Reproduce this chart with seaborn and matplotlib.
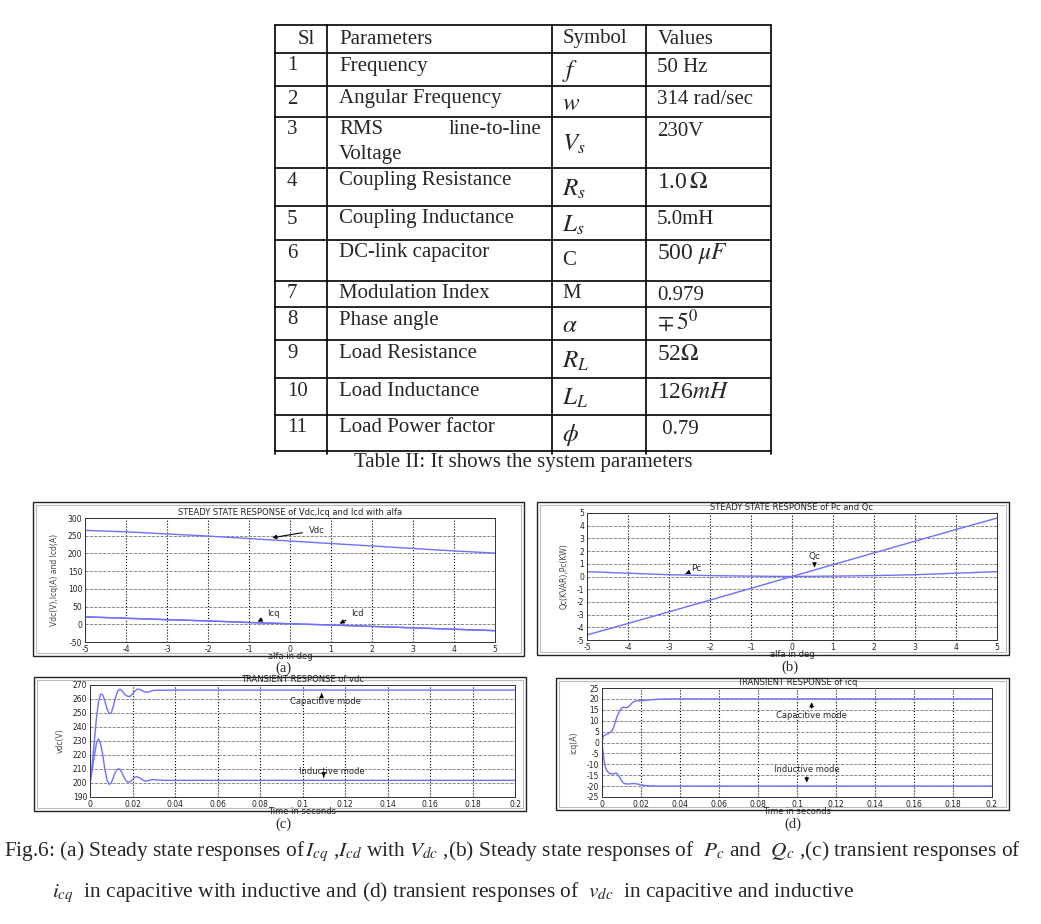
import matplotlib
matplotlib.use("Agg")
import numpy as np
import pandas as pd
import matplotlib.pyplot as plt
from matplotlib.patches import Rectangle
import seaborn as sns

sns.set_style("white")
plt.rcParams["font.family"] = ["DejaVu Sans"]
plt.rcParams["mathtext.fontset"] = "stix"

# --------------------------------------------------------------
# Table II data
# --------------------------------------------------------------
tab_sl = ["1", "2", "3", "4", "5", "6", "7", "8", "9", "10", "11"]
tab_param = ["Frequency", "Angular Frequency", "RMS line-to-line Voltage",
             "Coupling Resistance", "Coupling Inductance", "DC-link capacitor",
             "Modulation Index", "Phase angle", "Load Resistance",
             "Load Inductance", "Load Power factor"]
tab_symbol = [r"$f$", r"$w$", r"$V_s$", r"$R_s$", r"$L_s$", "C", "M",
              r"$\alpha$", r"$R_L$", r"$L_L$", r"$\phi$"]
tab_value = ["50 Hz", "314 rad/sec", "230V", r"1.0$\,\Omega$", "5.0mH",
             r"500 $\mu F$", "0.979", r"$\mp\, 5^0$", r"52$\Omega$",
             r"126$mH$", " 0.79"]

# --------------------------------------------------------------
# (a) steady state Vdc, Icq, Icd vs alfa
# --------------------------------------------------------------
alfa = [-5, -4, -3, -2, -1, 0, 1, 2, 3, 4, 5]
vdc_ss = [265, 261, 255, 249, 242, 235, 228, 221, 214, 207, 201]
icq_ss = [21, 17, 13, 9.5, 5, 1.5, -2, -6, -10, -14, -18]
icd_ss = [21, 17, 13, 9.5, 5, 1.5, -2, -6, -10, -14, -18]

# (b) steady state Pc, Qc vs alfa
pc_ss = [0.38, 0.26, 0.14, 0.07, 0.03, 0.0, 0.03, 0.07, 0.14, 0.26, 0.38]
qc_ss = [-4.6, -3.7, -2.78, -1.86, -0.93, 0.0, 0.93, 1.86, 2.78, 3.7, 4.6]

# (c) transient vdc
t_vdc = [0, 0.001, 0.002, 0.003, 0.004, 0.005, 0.006, 0.007, 0.008, 0.009,
         0.010, 0.011, 0.012, 0.013, 0.014, 0.015, 0.016, 0.017, 0.018, 0.019,
         0.020, 0.021, 0.022, 0.023, 0.024, 0.025, 0.026, 0.027, 0.028, 0.029,
         0.030, 0.032, 0.035, 0.040, 0.2]
vdc_cap = [200, 213, 229, 246, 258, 263.5, 263, 258.5, 253, 249.5,
           250, 255, 261, 265.5, 267, 266, 264, 262.5, 261.8, 262,
           263.5, 265.5, 266.8, 267, 266.5, 265.6, 265, 264.8, 265.2, 265.8,
           266.2, 266.3, 266.2, 266.4, 266.4]
vdc_ind = [200, 209, 219, 228, 231.5, 228, 220, 210, 202, 199,
           200, 204, 208, 210, 210, 207.5, 204, 201.5, 200.5, 201,
           202.5, 204, 204.5, 204, 203, 202, 201.4, 201.5, 202, 202.3,
           202.4, 202.1, 201.9, 201.9, 201.9]

# (d) transient icq
t_icq = [0, 0.0005, 0.001, 0.0015, 0.002, 0.003, 0.004, 0.005, 0.006, 0.007,
         0.008, 0.009, 0.010, 0.011, 0.012, 0.013, 0.014, 0.015, 0.016, 0.017,
         0.018, 0.020, 0.022, 0.025, 0.030, 0.035, 0.2]
icq_cap = [0, 2.5, 3.2, 3.4, 3.6, 4.0, 4.5, 5.3, 7.0, 10.0,
           12.5, 14.5, 15.8, 16.2, 16.0, 16.1, 16.8, 17.8, 18.6, 19.0,
           19.1, 19.2, 19.3, 19.6, 19.9, 20.0, 20.0]
icq_ind = [0, -4, -8, -10.5, -12, -13.5, -14.2, -14.5, -14.4, -14.0,
           -14.5, -16.0, -17.5, -18.5, -19.0, -19.0, -19.0, -18.9, -18.8, -18.9,
           -19.0, -19.5, -19.7, -19.9, -20.0, -20.0, -20.0]

W, H = 1041, 924
LINE = "#6f6fff"
fig = plt.figure(figsize=(W / 100, H / 100), dpi=100)
fig.patch.set_facecolor("white")

# pixel-coordinate overlay for table, frames and captions
ax0 = fig.add_axes([0, 0, 1, 1])
ax0.set_xlim(0, W)
ax0.set_ylim(H, 0)
ax0.axis("off")

serif = "Liberation Serif"

# ---- table ----
col_x = [275, 327, 552, 646, 771]
row_y = [25, 53, 86, 117, 168, 206, 240, 281, 307, 340, 378, 415, 451]
for x in col_x:
    ax0.plot([x, x], [row_y[0], row_y[-1] + 3], color="k", lw=1.2)
for y in row_y:
    ax0.plot([col_x[0], col_x[-1]], [y, y], color="k", lw=1.2)

hdr_y = 39
ax0.text(298, hdr_y, "Sl", family=serif, fontsize=15, va="center")
ax0.text(339, hdr_y, "Parameters", family=serif, fontsize=15, va="center")
ax0.text(563, hdr_y, "Symbol", family=serif, fontsize=15, va="center")
ax0.text(658, hdr_y, "Values", family=serif, fontsize=15, va="center")

for i in range(len(tab_sl)):
    top = row_y[i + 1]
    bot = row_y[i + 2]
    ty = top + 13
    ax0.text(287, ty, tab_sl[i], family=serif, fontsize=15, va="center")
    if i == 2:
        ax0.text(339, ty, "RMS", family=serif, fontsize=15, va="center")
        ax0.text(541, ty, "line-to-line", family=serif, fontsize=15,
                 va="center", ha="right")
        ax0.text(339, ty + 25, "Voltage", family=serif, fontsize=15, va="center")
    else:
        ax0.text(339, ty, tab_param[i], family=serif, fontsize=15, va="center")
    sym_y = (top + bot) / 2 + 2
    sym_fs = 15 if tab_symbol[i] in ("C", "M") else 18
    if tab_symbol[i] in ("C", "M"):
        sym_y = (top + bot) / 2
    ax0.text(562, sym_y, tab_symbol[i], family=serif, fontsize=sym_fs, va="center")
    val_fs = 17 if "$" in tab_value[i] else 15
    ax0.text(657, ty + 1, tab_value[i], family=serif, fontsize=val_fs, va="center")

ax0.text(523, 463, "Table II: It shows the system parameters", family=serif,
         fontsize=15, ha="center", va="center")

# ---- outer frames of the four plots ----
frames = [(33, 502, 491, 154), (537, 502, 472, 153), (34, 677, 492, 134), (556, 678, 453, 132)]
for fx, fy, fw, fh in frames:
    ax0.add_patch(Rectangle((fx, fy), fw, fh, fill=False, ec="#222222", lw=1.0))
    ax0.add_patch(Rectangle((fx + 3, fy + 3), fw - 6, fh - 6, fill=False, ec="#bbbbbb", lw=0.8))

for lab, lx, ly in [("(a)", 283, 668), ("(b)", 790, 667), ("(c)", 283, 824), ("(d)", 793, 824)]:
    ax0.text(lx, ly, lab, family=serif, fontsize=10.5, ha="center", va="center")

# ---- figure caption ----
cap1 = (r"Fig.6: (a) Steady state responses of$\,I_{cq}$ ,$I_{cd}$ with $V_{dc}$ ,(b) Steady state "
        r"responses of  $P_c$ and  $Q_c$ ,(c) transient responses of")
cap2 = (r"$i_{cq}$  in capacitive with inductive and (d) transient responses of  $v_{dc}$  "
        r"in capacitive and inductive")
ax0.text(4, 852, cap1, family=serif, fontsize=15.4, va="center", ha="left")
ax0.text(52, 893, cap2, family=serif, fontsize=15.4, va="center", ha="left")


def make_ax(px):
    x0, y0, x1, y1 = px
    return fig.add_axes([x0 / W, 1 - y1 / H, (x1 - x0) / W, (y1 - y0) / H])


def style_ax(ax, xlim, ylim, xticks, yticks, xlabels, title, xlabel, ylabel):
    ax.set_xlim(*xlim)
    ax.set_ylim(*ylim)
    ax.set_xticks(xticks)
    ax.set_xticklabels(xlabels)
    ax.set_yticks(yticks)
    ax.set_yticklabels([f"{v:g}" for v in yticks])
    ax.tick_params(direction="in", length=2.5, width=0.6, labelsize=5.5,
                   colors="#222222", pad=2)
    ax.xaxis.grid(True, ls=":", color="k", lw=0.8)
    ax.yaxis.grid(True, ls="--", color="#777777", lw=0.6)
    ax.set_axisbelow(True)
    for s in ax.spines.values():
        s.set_color("#333333")
        s.set_linewidth(0.7)
    ax.set_title(title, fontsize=6, pad=2, color="#222222")
    ax.set_xlabel(xlabel, fontsize=6, labelpad=-1, color="#222222")
    ax.set_ylabel(ylabel, fontsize=5.5, labelpad=6, color="#444444")


arr = dict(arrowstyle="-|>", color="k", lw=0.8, mutation_scale=6)

# (a)
ax_a = make_ax((85, 518, 495, 642))
df_a = pd.DataFrame({"alfa": alfa, "vdc": vdc_ss, "icq": icq_ss, "icd": icd_ss})
for col in ["vdc", "icq", "icd"]:
    sns.lineplot(data=df_a, x="alfa", y=col, ax=ax_a, color=LINE, lw=1.0)
style_ax(ax_a, (-5, 5), (-50, 300), alfa, list(range(-50, 301, 50)),
         [str(a) for a in alfa],
         "STEADY STATE RESPONSE of Vdc,Icq and Icd with alfa", "alfa in deg",
         "Vdc(V),Icq(A) and Icd(A)")
ax_a.annotate("Vdc", xy=(-0.5, 243), xytext=(0.45, 265), fontsize=6,
              va="center", arrowprops=arr)
ax_a.annotate("Icq", xy=(-0.85, 4), xytext=(-0.55, 30), fontsize=6,
              va="center", arrowprops=arr)
ax_a.annotate("Icd", xy=(1.15, -2), xytext=(1.5, 30), fontsize=6,
              va="center", arrowprops=arr)

# (b)
ax_b = make_ax((587, 513, 997, 640))
df_b = pd.DataFrame({"alfa": alfa, "pc": pc_ss, "qc": qc_ss})
sns.lineplot(data=df_b, x="alfa", y="pc", ax=ax_b, color=LINE, lw=1.0)
sns.lineplot(data=df_b, x="alfa", y="qc", ax=ax_b, color=LINE, lw=1.0)
style_ax(ax_b, (-5, 5), (-5, 5), alfa, list(range(-5, 6)),
         [str(a) for a in alfa],
         "STEADY STATE RESPONSE of Pc and Qc", "alfa in deg", "Qc(KVAR),Pc(KW)")
ax_b.annotate("Pc", xy=(-2.6, 0.2), xytext=(-2.45, 0.6), fontsize=6.5,
              va="center", arrowprops=arr)
ax_b.annotate("Qc", xy=(0.55, 0.5), xytext=(0.4, 1.6), fontsize=6.5,
              va="center", arrowprops=arr)

t_ticks = [0, 0.02, 0.04, 0.06, 0.08, 0.1, 0.12, 0.14, 0.16, 0.18, 0.2]
t_labels = [f"{v:g}" for v in t_ticks]

# (c)
ax_c = make_ax((90, 685, 515, 797))
df_c = pd.DataFrame({"t": t_vdc, "cap": vdc_cap, "ind": vdc_ind})
sns.lineplot(data=df_c, x="t", y="cap", ax=ax_c, color=LINE, lw=1.0)
sns.lineplot(data=df_c, x="t", y="ind", ax=ax_c, color=LINE, lw=1.0)
style_ax(ax_c, (0, 0.2), (190, 270), t_ticks, list(range(190, 271, 10)), t_labels,
         "TRANSIENT RESPONSE of vdc", "Time in seconds", "vdc(V)")
ax_c.annotate("", xy=(0.109, 266.2), xytext=(0.109, 261), arrowprops=arr)
ax_c.text(0.111, 258, "Capacitive mode", fontsize=6, ha="center", va="center")
ax_c.annotate("", xy=(0.11, 202.2), xytext=(0.11, 206.5), arrowprops=arr)
ax_c.text(0.114, 208, "Inductive mode", fontsize=6, ha="center", va="center")

# (d)
ax_d = make_ax((602, 688, 992, 797))
df_d = pd.DataFrame({"t": t_icq, "cap": icq_cap, "ind": icq_ind})
sns.lineplot(data=df_d, x="t", y="cap", ax=ax_d, color=LINE, lw=1.0)
sns.lineplot(data=df_d, x="t", y="ind", ax=ax_d, color=LINE, lw=1.0)
style_ax(ax_d, (0, 0.2), (-25, 25), t_ticks, list(range(-25, 26, 5)), t_labels,
         "TRANSIENT RESPONSE of icq", "Time in seconds", "icq(A)")
ax_d.annotate("", xy=(0.1075, 19.7), xytext=(0.1075, 14.5), arrowprops=arr)
ax_d.text(0.1075, 12.5, "Capacitive mode", fontsize=6, ha="center", va="center")
ax_d.annotate("", xy=(0.105, -19.6), xytext=(0.105, -14.5), arrowprops=arr)
ax_d.text(0.105, -12.2, "Inductive mode", fontsize=6, ha="center", va="center")

fig.savefig("out.png", dpi=100, facecolor="white")
